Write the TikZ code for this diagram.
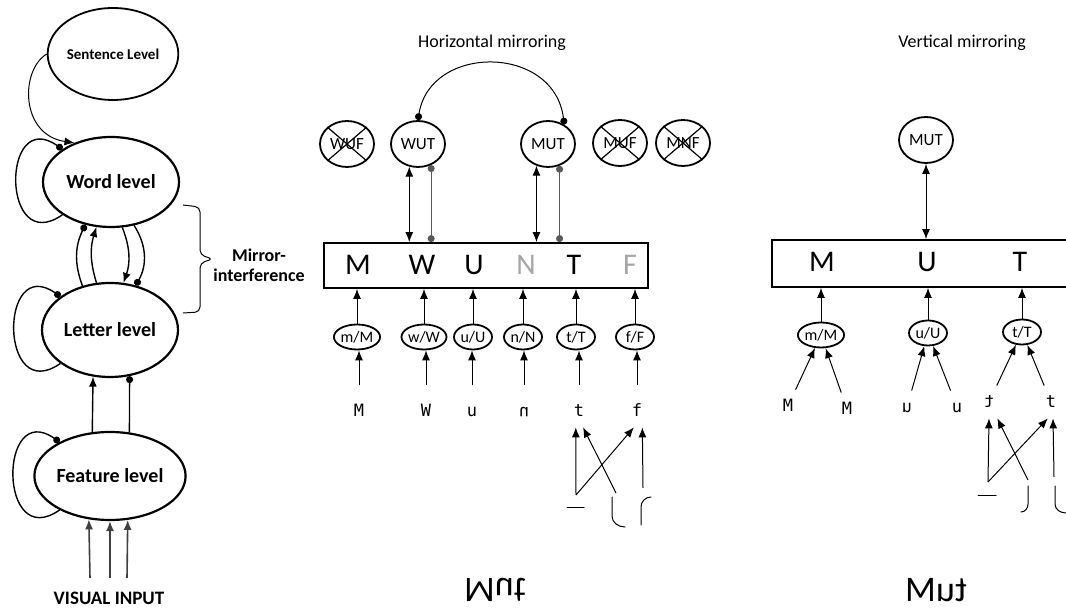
\documentclass[tikz,border=0pt]{standalone}
\usepackage{fontspec}
\usepackage{graphicx}
\setmainfont{Carlito}
\newfontfamily\monofont{DejaVu Sans Mono}
\usetikzlibrary{arrows.meta, shapes.geometric}

\begin{document}
\begin{tikzpicture}[x=0.5pt, y=0.5pt,
  lvl/.style={ellipse, draw, line width=1.1pt, fill=white, inner sep=0pt, minimum width=68pt, minimum height=45pt, font=\bfseries\fontsize{10}{12}\selectfont},
  word/.style={ellipse, draw, line width=0.9pt, inner sep=0pt, minimum width=27pt, minimum height=23pt, font=\fontsize{8.5}{9}\selectfont},
  lett/.style={ellipse, draw, line width=0.9pt, inner sep=0pt, minimum width=19pt, minimum height=12.5pt, font=\fontsize{8}{8}\selectfont},
  glyph/.style={anchor=base, inner sep=5pt, text height=6pt, text depth=0pt, font=\monofont\fontsize{8.5}{9}\selectfont},
  big/.style={anchor=base, font=\fontsize{15}{16}\selectfont},
  excit/.style={-{Latex[length=5pt,width=4pt]}, line width=0.5pt},
  twoway/.style={{Latex[length=5pt,width=4pt]}-{Latex[length=5pt,width=4pt]}, line width=0.5pt},
  inhib/.style={-{Circle[length=3.5pt]}, line width=0.5pt},
  dotlink/.style={{Circle[length=3.5pt]}-{Circle[length=3.5pt]}, line width=0.5pt, black!65},
  pen/.style={line width=0.5pt, line cap=round},
]
\useasboundingbox (0,0) rectangle (1066,-608);
\clip (0,0) rectangle (1066,-608);

% levels of the model
\node [lvl, line width=0.9pt, minimum width=56pt, minimum height=46pt, font=\bfseries\fontsize{7.5}{8}\selectfont] (sent) at (113,-54) {Sentence Level};
\node [lvl] (wordlv) at (111,-182) {Word level};
\node [lvl, minimum height=47pt] (letlv) at (110,-330) {Letter level};
\node [lvl, minimum height=44pt] (featlv) at (110,-476) {Feature level};
\node [font=\bfseries\fontsize{9.5}{11}\selectfont] (vis) at (109,-598) {VISUAL INPUT};

\draw [excit] (sent.west) .. controls (20,-70) and (20,-135) .. (wordlv.133);

% self loops
\foreach \lv in {wordlv, letlv, featlv}
  \draw [{Circle[length=3.5pt]}-, line width=0.7pt] (\lv.146) .. controls +(145:75) and +(215:75) .. (\lv.214);

% word <-> letter
\draw [inhib, line width=0.7pt] (letlv.122) to [bend left=23] (wordlv.239);
\draw [excit, line width=0.7pt] (letlv.106) to [bend left=17] (wordlv.252);
\draw [excit, line width=0.7pt] (wordlv.284) to [bend left=20] (letlv.74);
\draw [inhib, line width=0.7pt] (wordlv.298) to [bend left=31] (letlv.60);

% feature -> letter
\draw [excit, line width=0.7pt] (featlv.112) -- (letlv.250);
\draw [inhib, line width=0.7pt] (featlv.66) -- (letlv.293);

% visual input
\coordinate (in1) at (90,-578);
\coordinate (in2) at (110,-578);
\coordinate (in3) at (127,-578);
\draw [excit, line width=0.8pt, black!75] (in1) -- (featlv.244);
\draw [excit, line width=0.8pt, black!75] (in2) -- (featlv.270);
\draw [excit, line width=0.8pt, black!75] (in3) -- (featlv.292);

\draw [line width=0.5pt, rounded corners=2.5pt] (183,-205) -- (200,-207) -- (200,-255) -- (213,-259) -- (200,-263) -- (200,-312) -- (183,-313);
\node [align=center, font=\bfseries\fontsize{9}{10}\selectfont] (mir) at (259,-265) {Mirror-\\interference};

% horizontal mirroring
\node [font=\fontsize{9}{10}\selectfont] (htitle) at (492,-43) {Horizontal mirroring};
\node [draw, line width=0.9pt, minimum width=162pt, minimum height=22.5pt, inner sep=0pt] (hbox) at (486,-265.5) {};
\foreach \x/\c/\l in {358/black/M, 422/black/W, 474/black/U, 526/black!35/N, 574/black/T, 630/black!35/F}
  \node [big, text=\c] (hb\l) at (\x,-275) {\l};

\node [word] (WUF) at (347,-144) {WUF};
\node [word] (WUT) at (418,-144) {WUT};
\node [word] (MUT) at (548,-144) {MUT};
\node [word] (MUF) at (620,-143) {MUF};
\node [word] (MNF) at (683,-143) {MNF};
\foreach \n in {WUF, MUF, MNF}
  \draw [line width=0.6pt] (\n.north west) -- (\n.south east) (\n.north east) -- (\n.south west);

\draw [dotlink, black] (WUT.north) .. controls (430,-44) and (554,-44) .. (MUT.50);
\draw [twoway] (WUT.249) -- (WUT.249 |- hbox.north);
\draw [dotlink] (WUT.302) -- (WUT.302 |- hbox.north);
\draw [twoway] (MUT.242) -- (MUT.242 |- hbox.north);
\draw [dotlink] (MUT.298) -- (MUT.298 |- hbox.north);

\node [lett] (mM) at (357,-337) {m/M};
\node [lett] (wW) at (424,-337) {w/W};
\node [lett] (uU) at (473,-337) {u/U};
\node [lett] (nN) at (523,-337) {n/N};
\node [lett] (tT) at (576,-337) {t/T};
\node [lett] (fF) at (635,-337) {f/F};

\node [glyph] (hM) at (359,-417) {M};
\node [glyph] (hW) at (426,-417) {W};
\node [glyph] (hu) at (472,-417) {u};
\node [glyph] (hn) at (524,-417) {\raisebox{\depth}{\scalebox{1}[-1]{u}}};
\node [glyph] (ht) at (579,-417) {t};
\node [glyph] (hf) at (637,-417) {f};

\foreach \g/\e in {hM/mM, hW/wW, hu/uU, hn/nN, ht/tT, hf/fF} {
  \draw [excit] (\e.north) -- (\e.north |- hbox.south);
  \draw [excit, shorten <=5pt] (\g.north) -- (\g.north |- \e.south);
}

% strokes of t and f
\draw [pen] (567,-508) -- (584,-508);
\draw [pen] (612,-497) -- (612,-516) to [out=-90, in=180] (625,-527);
\draw [pen] (641,-525) -- (641,-507) to [out=90, in=180] (651,-497);
\coordinate (hs1) at (576,-495);
\coordinate (hs2) at (616,-493);
\coordinate (hs3) at (643,-488);
\draw [excit] (hs1) -- (ht.-101);
\draw [excit] (hs1) -- (hf.-101);
\draw [excit] (hs2) -- (ht.-76);
\draw [excit] (hs3) -- (hf.-72);

\node [font=\fontsize{18}{20}\selectfont] (hword) at (495,-590) {\scalebox{1}[-1]{Mut}};

% vertical mirroring
\node [font=\fontsize{9}{10}\selectfont] (vtitle) at (962,-43) {Vertical mirroring};
\node [draw, line width=0.9pt, minimum width=160pt, minimum height=23.5pt, inner sep=0pt] (vbox) at (932,-263.5) {};
\node [big] (vbM) at (822,-272) {M};
\node [big] (vbU) at (927,-272) {U};
\node [big] (vbT) at (1020,-272) {T};

\node [word] (vMUT) at (926,-140) {MUT};
\draw [twoway] (vMUT.south) -- (vMUT.south |- vbox.north);

\node [lett] (vmM) at (821,-335) {m/M};
\node [lett] (vuU) at (928,-333) {u/U};
\node [lett] (vtT) at (1022,-332) {t/T};
\foreach \e in {vmM, vuU, vtT}
  \draw [excit] (\e.north) -- (\e.north |- vbox.south);

\node [glyph] (vM1) at (788,-412) {M};
\node [glyph] (vM2) at (847,-415) {M};
\node [glyph] (vu1) at (907,-413) {\scalebox{-1}[1]{u}};
\node [glyph] (vu2) at (957,-413) {u};
\node [glyph] (vt1) at (989,-408) {\scalebox{-1}[1]{t}};
\node [glyph] (vt2) at (1051,-408) {t};
\draw [excit] (vM1) -- (vmM);
\draw [excit] (vM2) -- (vmM);
\draw [excit] (vu1) -- (vuU);
\draw [excit] (vu2) -- (vuU);
\draw [excit] (vt1) -- (vtT);
\draw [excit] (vt2) -- (vtT);

\draw [pen] (978,-496) -- (996,-496);
\draw [pen] (1028,-486) -- (1028,-504) to [out=-90, in=0] (1021,-512);
\draw [pen] (1055,-486) -- (1055,-504) to [out=-90, in=180] (1066,-513);
\coordinate (vs1) at (988,-482);
\coordinate (vs2) at (1028,-480);
\coordinate (vs3) at (1054,-477);
\draw [excit] (vs1) -- (vt1.south);
\draw [excit] (vs1) -- (vt2.-101);
\draw [excit] (vs2) -- (vt1.-63);
\draw [excit] (vs3) -- (vt2.-83);

\node [font=\fontsize{18}{20}\selectfont] (vword) at (936,-590) {M\scalebox{-1}[1]{u}\scalebox{-1}[1]{t}};
\end{tikzpicture}
\end{document}
